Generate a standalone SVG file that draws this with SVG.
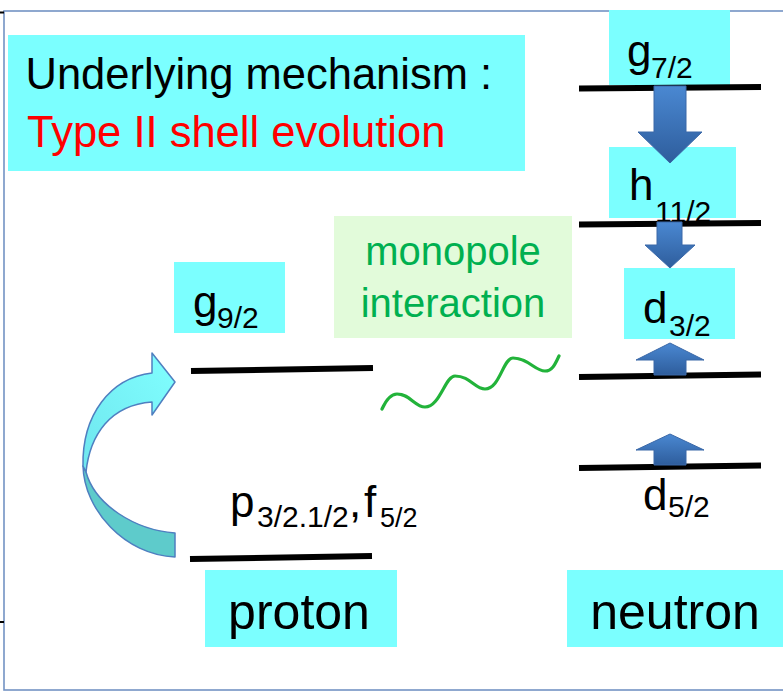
<svg xmlns="http://www.w3.org/2000/svg" width="783" height="692" viewBox="0 0 783 692">
<style>
text{font-family:"Liberation Sans",Arial,sans-serif;fill:#000}
.cy{fill:#7bffff}
.lvl{stroke:#000;stroke-width:6;fill:none}
.lbl{font-size:44px}
.sub{font-size:30px}
.big{font-size:50px}
.barrow{fill:url(#bg);stroke:#3a68a8;stroke-width:1}
</style>
<defs>
<linearGradient id="bg" x1="0" y1="0" x2="0" y2="1">
<stop offset="0" stop-color="#4a88d2"/>
<stop offset="1" stop-color="#2e5d9c"/>
</linearGradient>
<linearGradient id="cg" x1="0" y1="1" x2="1" y2="0">
<stop offset="0" stop-color="#6fe6ee"/>
<stop offset="1" stop-color="#80ffff"/>
</linearGradient>
</defs>
<rect x="4" y="11" width="800" height="679" fill="none" stroke="#7393c4" stroke-width="1.6"/>
<path d="M0,12.5H4M0,622H4" stroke="#000" stroke-width="2"/>
<g id="title">
<rect x="8" y="35" width="517" height="136" class="cy"/>
<text x="25.5" y="89" font-size="43.5">Underlying mechanism :</text>
<text x="27" y="147" font-size="43.5" style="fill:#ff0000">Type II shell evolution</text>
</g>
<g id="monopole">
<rect x="334" y="216" width="238" height="122" fill="#e2fbda"/>
<text x="453" y="265" font-size="40" text-anchor="middle" style="fill:#00b050">monopole</text>
<text x="453" y="317" font-size="40" text-anchor="middle" style="fill:#00b050">interaction</text>
</g>
<g id="proton-g92">
<rect x="174" y="262" width="111" height="71" class="cy"/>
<text class="lbl" x="193" y="317">g</text><text class="sub" x="217" y="328">9/2</text>
<line class="lvl" x1="191" y1="371" x2="373" y2="368"/>
</g>
<g id="proton-pf">
<text class="lbl" x="230" y="517">p</text><text class="sub" x="257" y="527">3/2.1/2</text>
<text class="lbl" x="349" y="517">,</text>
<text class="lbl" x="364" y="517">f</text><text x="380" y="527" font-size="27">5/2</text>
<line class="lvl" x1="190" y1="559" x2="372" y2="556"/>
</g>
<g id="proton">
<rect x="205" y="570" width="192" height="77" class="cy"/>
<text class="big" x="299" y="629" text-anchor="middle">proton</text>
</g>
<g id="neutron">
<rect x="567" y="570" width="220" height="77" class="cy"/>
<text class="big" x="675" y="629" text-anchor="middle">neutron</text>
</g>
<g id="n-g72">
<rect x="609" y="10" width="121" height="75" class="cy"/>
<text class="lbl" x="627" y="66">g</text><text class="sub" x="651" y="78">7/2</text>
<line class="lvl" x1="579" y1="88.5" x2="761" y2="87"/>
</g>
<g id="n-h112">
<rect x="609" y="147" width="127" height="71" class="cy"/>
<text class="lbl" x="629" y="200">h</text><text class="sub" x="655" y="222">11/2</text>
<line class="lvl" x1="579" y1="224.5" x2="761" y2="223"/>
</g>
<g id="n-d32">
<rect x="624" y="268" width="111" height="71" class="cy"/>
<text class="lbl" x="643" y="323">d</text><text class="sub" x="669" y="336">3/2</text>
<line class="lvl" x1="579" y1="377" x2="761" y2="374.5"/>
</g>
<g id="n-d52">
<line class="lvl" x1="579" y1="468" x2="761" y2="465.5"/>
<text class="lbl" x="643" y="510">d</text><text class="sub" x="668" y="517">5/2</text>
</g>
<g id="connectors">
<path d="M83,466 C84,510 125,555 175,557 L175,533 C135,530 95,505 86,472 Z" fill="#5ecbcb" stroke="#4f7fc0" stroke-width="1.5" stroke-linejoin="round"/>
<path d="M83,466 C82,415 110,378 152,373 L152,353 L175,382 L152,415 L152,402 C110,405 90,435 86,472 Z" fill="url(#cg)" stroke="#4f7fc0" stroke-width="1.5" stroke-linejoin="round"/>
<path d="M382,409 C387,398 392,394 397,394 C410,394 415,407 425,407 C440,407 445,376 455,376 C470,376 475,389 485,389 C500,389 503,358 513,358 C528,358 535,371 545,371 C553,371 556,362 559,356" fill="none" stroke="#22b33a" stroke-width="3.2" stroke-linecap="round"/>
<path class="barrow" d="M654,86 H686 V132 H702 L670,163 L638,132 H654 Z"/>
<path class="barrow" d="M657,222 H682 V245 H695 L670,268 L645,245 H657 Z"/>
<path class="barrow" d="M654,375 V360 H636 L670,343 L704,360 H686 V375 Z"/>
<path class="barrow" d="M654,465 V450 H636 L670,434 L704,450 H686 V465 Z"/>
</g>
</svg>
